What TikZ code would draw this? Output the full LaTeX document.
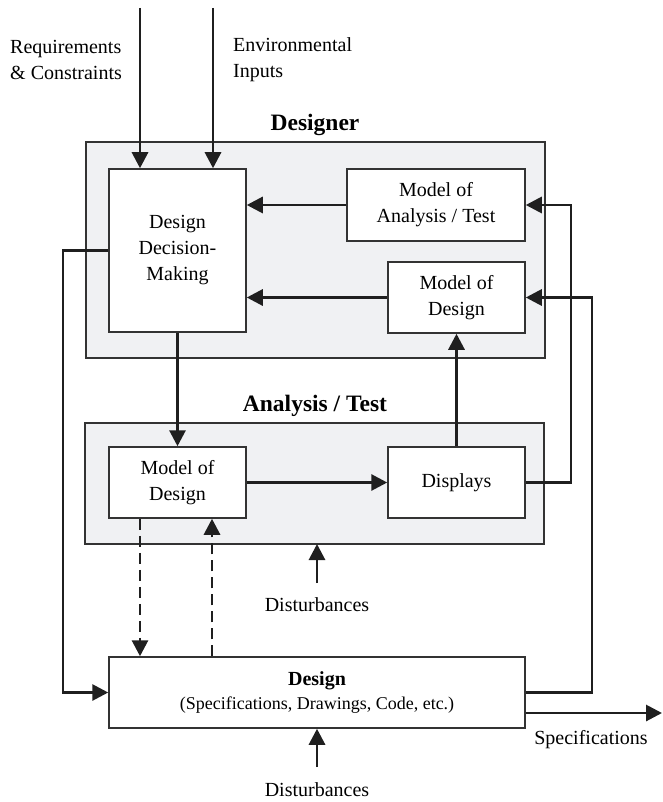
\documentclass[tikz,border=0pt]{standalone}
\usepackage{fontspec}
\setmainfont{Liberation Serif}
\usetikzlibrary{arrows.meta,calc}
\definecolor{panel}{HTML}{F0F1F3}
\definecolor{edge}{HTML}{333333}
\tikzset{
  box/.style={draw=edge, line width=1.5pt, fill=white, align=center,
    inner sep=0pt, font=\fontsize{20}{26}\selectfont},
  panelbox/.style={draw=edge, line width=1.5pt, fill=panel},
  flow/.style={line width=2.9pt, draw=black!88,
    -{Triangle[length=16pt,width=16pt]}},
  dflow/.style={flow, dash pattern=on 11pt off 6pt},
  lbl/.style={font=\fontsize{20}{26}\selectfont, align=left, inner sep=0pt},
  title/.style={font=\fontsize{23.5}{28}\selectfont\bfseries, inner sep=0pt}
}
\begin{document}
\begin{tikzpicture}[x=1pt,y=-1pt]
\useasboundingbox (0,0) rectangle (662,802);

% grouping panels
\draw[panelbox] (86,142) rectangle (545,358);
\draw[panelbox] (85,423) rectangle (544,544);
\node[title] (tdesigner) at (315,125) {Designer};
\node[title] (tanalysis) at (315,406) {Analysis / Test};

% blocks
\node[box, minimum width=137pt, minimum height=163pt] (ddm) at (177.5,250.5)
  {Design\\Decision-\\Making};
\node[box, minimum width=178pt, minimum height=72pt] (mat) at (436,205)
  {Model of\\Analysis / Test};
\node[box, minimum width=137pt, minimum height=71pt] (mdu) at (456.5,297.5)
  {Model of\\Design};
\node[box, minimum width=137pt, minimum height=71pt] (mdl) at (177.5,482.5)
  {Model of\\Design};
\node[box, minimum width=137pt, minimum height=71pt] (disp) at (456.5,482.5)
  {Displays};
\node[box, minimum width=416pt, minimum height=71pt] (design) at (317,692.5)
  {\textbf{Design}\\[-2pt]\fontsize{18}{22}\selectfont(Specifications, Drawings, Code, etc.)};

% free labels
\node[lbl, anchor=west] (req) at (10,60) {Requirements\\\& Constraints};
\node[lbl, anchor=west] (env) at (233,60) {Environmental\\Inputs};
\node[lbl] (dist1) at (317,605) {Disturbances};
\node[lbl] (dist2) at (317,790) {Disturbances};
\node[lbl] (spec) at (591,740) {Specifications};

% external inputs
\coordinate (in1) at (140,8);
\coordinate (in2) at (213,8);
\draw[flow] (in1) -- (in1 |- ddm.north);
\draw[flow] (in2) -- (in2 |- ddm.north);

% designer internals
\draw[flow] (mat.west) -- (mat.west -| ddm.east);
\draw[flow] (mdu.west) -- (mdu.west -| ddm.east);
\draw[flow] (ddm.south) -- (mdl.north);

% analysis / test internals
\draw[flow] (mdl.east) -- (disp.west);
\draw[flow] (disp.north) -- (mdu.south);

% feedback from displays to model of analysis
\coordinate (r1) at (571,0);
\draw[flow] (disp.east) -- (disp.east -| r1) -- (mat.east -| r1) -- (mat.east);

% design path to and from the design document
\coordinate (l1) at (63,0);
\draw[flow] (ddm.west) -- (ddm.west -| l1) -- (design.west -| l1) -- (design.west);
\coordinate (r2) at (592,0);
\draw[flow] (design.east) -- (design.east -| r2) -- (mdu.east -| r2) -- (mdu.east);

% dashed exchange between model and design
\coordinate (dd1) at (140,0);
\coordinate (dd2) at (212,0);
\draw[dflow] (mdl.south -| dd1) -- (design.north -| dd1);
\draw[dflow] (design.north -| dd2) -- (mdl.south -| dd2);

% specifications output
\coordinate (so) at (662,713);
\draw[flow] (so -| design.east) -- (so);

% disturbances
\coordinate (d1) at (317,583);
\coordinate (d2) at (317,767);
\draw[flow] (d1) -- (d1 |- 0,544);
\draw[flow] (d2) -- (design.south);
\end{tikzpicture}
\end{document}
